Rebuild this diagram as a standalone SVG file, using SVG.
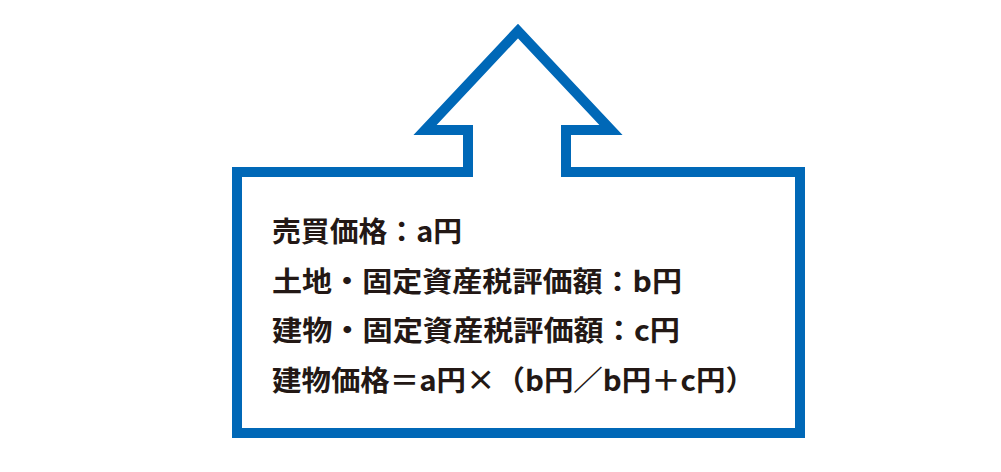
<svg xmlns="http://www.w3.org/2000/svg" width="1001" height="472" viewBox="0 0 1001 472">
<style>
.o{fill:#fff;stroke:#0068b7;stroke-width:10;stroke-linejoin:miter}
.t{font-family:"Noto Sans CJK JP",sans-serif;font-weight:bold;font-size:28px;fill:#231815}
</style>
<g id="callout">
<path class="o" d="M237,172 H468 V130 H425 L518,31 L611,130 H566 V172 H800 V433 H237 Z"/>
</g>
<g id="connectors"></g>
<g id="text">
<text class="t" x="272" y="242" textLength="190" lengthAdjust="spacingAndGlyphs">売買価格：a円</text>
<text class="t" x="272" y="292" textLength="410" lengthAdjust="spacingAndGlyphs">土地・固定資産税評価額：b円</text>
<text class="t" x="272" y="341" textLength="408" lengthAdjust="spacingAndGlyphs">建物・固定資産税評価額：c円</text>
<text class="t" x="272" y="391" textLength="483" lengthAdjust="spacingAndGlyphs">建物価格＝a円×（b円／b円＋c円）</text>
</g>
</svg>
